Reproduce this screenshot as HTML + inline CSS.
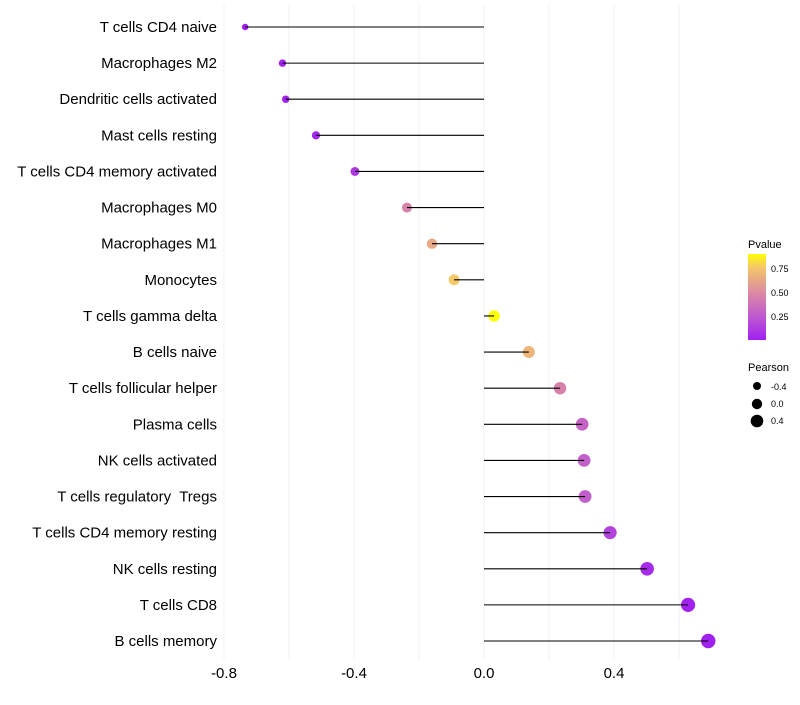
<!DOCTYPE html>
<html><head><meta charset="utf-8"><style>
body{margin:0;background:#fff;}
svg text{font-family:"Liberation Sans",sans-serif;}
</style></head><body>
<svg id="chart" width="800" height="700" xmlns="http://www.w3.org/2000/svg">
<defs><linearGradient id="pg" x1="0" y1="1" x2="0" y2="0">
<stop offset="0" stop-color="#A020F0"/><stop offset="0.28" stop-color="#C05AD0"/><stop offset="0.56" stop-color="#DC8CA0"/><stop offset="0.85" stop-color="#F5C868"/><stop offset="1" stop-color="#FFFF00"/></linearGradient></defs>
<g id="grid"></g>
<g id="marks"></g>
<g id="labels"></g>
<g id="xticks"></g>
<g>
<text x="748" y="248" font-size="11">Pvalue</text>
<rect x="748" y="254" width="18" height="86" fill="url(#pg)"/>
<text x="771" y="272" font-size="9">0.75</text>
<text x="771" y="296" font-size="9">0.50</text>
<text x="771" y="320" font-size="9">0.25</text>
</g>
<g>
<text x="748" y="371" font-size="11">Pearson</text>
<circle cx="757" cy="386" r="4" fill="#000"/>
<circle cx="757" cy="404" r="5.2" fill="#000"/>
<circle cx="757" cy="421" r="6.3" fill="#000"/>
<text x="771" y="390" font-size="9">-0.4</text>
<text x="771" y="407" font-size="9">0.0</text>
<text x="771" y="424" font-size="9">0.4</text>
</g>
</svg>
<script>
const categories=["T cells CD4 naive","Macrophages M2","Dendritic cells activated","Mast cells resting","T cells CD4 memory activated","Macrophages M0","Macrophages M1","Monocytes","T cells gamma delta","B cells naive","T cells follicular helper","Plasma cells","NK cells activated","T cells regulatory\u00a0 Tregs","T cells CD4 memory resting","NK cells resting","T cells CD8","B cells memory"];
const pearson=[-0.735,-0.62,-0.61,-0.517,-0.397,-0.237,-0.16,-0.092,0.031,0.138,0.234,0.302,0.308,0.311,0.388,0.502,0.628,0.690];
const pvalue=[0.0,0.01,0.01,0.03,0.1,0.45,0.62,0.75,0.885,0.68,0.45,0.3,0.28,0.27,0.15,0.05,0.01,0.0];
const gridTicks=[-0.8,-0.6,-0.4,-0.2,0,0.2,0.4,0.6];
const tickLabels=[-0.8,-0.4,0.0,0.4];

const NS="http://www.w3.org/2000/svg";
function xs(v){return 484+v*325;}
function ys(i){return 27+i*(614/17);}
function rs(v){return Math.sqrt(Math.max(3,32+29*v));}
const stops=[[0,[160,32,240]],[0.25,[192,90,208]],[0.5,[220,140,160]],[0.75,[245,200,104]],[0.885,[255,255,0]]];
function col(p){
  p=Math.max(0,Math.min(0.885,p));
  for(let k=0;k<stops.length-1;k++){
    const a=stops[k],b=stops[k+1];
    if(p<=b[0]){const t=(p-a[0])/(b[0]-a[0]);
      return "rgb("+a[1].map((c,j)=>Math.round(c+(b[1][j]-c)*t)).join(",")+")";}
  }
  return "rgb(255,255,0)";
}
function mk(tag,attrs,parent){const e=document.createElementNS(NS,tag);for(const k in attrs)e.setAttribute(k,attrs[k]);parent.appendChild(e);return e;}

const grid=document.getElementById('grid');
gridTicks.forEach(t=>{
  const l=mk('line',{x1:xs(t),x2:xs(t),y1:5,y2:660,stroke:'#f0f0f0','stroke-width':1},grid);
  
  
});

const marks=document.getElementById('marks');
const labels=document.getElementById('labels');
categories.forEach((c,i)=>{
  const y=ys(i);
  const pt=mk('circle',{cx:xs(pearson[i]),cy:y,r:rs(pearson[i]),fill:col(pvalue[i])},marks);
  
  
  const ln=mk('line',{x1:xs(0),x2:xs(pearson[i]),y1:y,y2:y,stroke:'#000','stroke-width':1.1},marks);
  
  
  const tx=mk('text',{x:217,y:y+5,'font-size':15,'text-anchor':'end',fill:'#000'},labels);
  tx.textContent=c;
  
  
});

const xt=document.getElementById('xticks');
tickLabels.forEach(t=>{
  const tx=mk('text',{x:xs(t),y:678,'font-size':15,'text-anchor':'middle',fill:'#000'},xt);
  tx.textContent=t.toFixed(1);
  
  
});
</script>
</body></html>
